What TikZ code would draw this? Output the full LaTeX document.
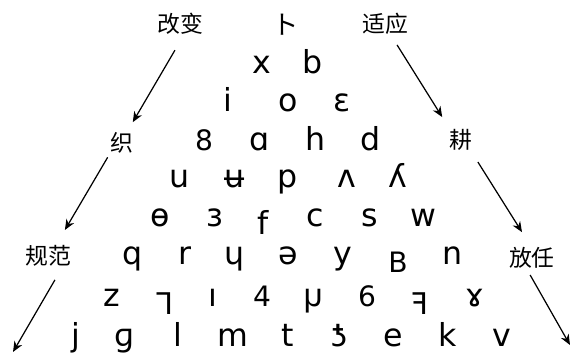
\documentclass[tikz,border=0pt]{standalone}
\usepackage{fontspec}
\usepackage{graphicx}
\setmainfont{DejaVu Sans}
\newfontfamily\cjk{Noto Sans CJK SC}
\usetikzlibrary{arrows.meta}

\begin{document}
\begin{tikzpicture}[
        sym/.style={anchor=base, inner sep=0pt, font=\fontsize{18}{20}\selectfont},
        smallsym/.style={anchor=base, inner sep=0pt, font=\fontsize{16}{18}\selectfont},
        lbl/.style={inner sep=2pt, font=\cjk\fontsize{13}{15}\selectfont},
        arr/.style={-{Stealth[length=6pt,width=5pt]}, line width=0.7pt}]
        \useasboundingbox (0, 0) rectangle (11.42, 7.08);

        \node[lbl](gaibian) at (3.60, 6.60) {改变};
        \node[lbl, font=\cjk\fontsize{15}{17}\selectfont](to) at (5.72, 6.58) {ト};
        \node[lbl](shiying) at (7.70, 6.60) {适应};

        \node[sym](x) at (5.24, 5.60) {x};
        \node[sym](b) at (6.26, 5.60) {b};

        \node[sym](i) at (4.56, 4.84) {i};
        \node[sym](o) at (5.76, 4.84) {o};
        \node[sym](epsilon) at (6.84, 4.84) {ɛ};

        \node[smallsym](eight) at (4.08, 4.06) {8};
        \node[sym](alpha) at (5.20, 4.06) {ɑ};
        \node[sym](h) at (6.32, 4.06) {h};
        \node[sym](d) at (7.42, 4.06) {d};

        \node[sym](u) at (3.60, 3.32) {u};
        \node[sym](ubar) at (4.70, 3.32) {ʉ};
        \node[sym](p) at (5.76, 3.32) {p};
        \node[sym](wedge) at (6.94, 3.32) {ʌ};
        \node[sym](turny) at (7.96, 3.32) {ʎ};

        \node[sym](obar) at (3.20, 2.54) {ɵ};
        \node[sym](revepsilon) at (4.30, 2.54) {ɜ};
        \node[sym](flow) at (5.26, 2.38) {f};
        \node[sym](c) at (6.30, 2.54) {c};
        \node[sym](s) at (7.40, 2.54) {s};
        \node[sym](w) at (8.46, 2.54) {w};

        \node[sym](q) at (2.66, 1.78) {q};
        \node[sym](r) at (3.70, 1.78) {r};
        \node[sym](turnh) at (4.70, 1.78) {ɥ};
        \node[sym](schwa) at (5.76, 1.78) {ə};
        \node[sym](y) at (6.86, 1.78) {y};
        \node[sym, font=\fontsize{16}{18}\selectfont](bigB) at (7.96, 1.62) {B};
        \node[sym](n) at (9.06, 1.78) {n};

        \node[sym](z) at (2.24, 0.94) {z};
        \node[sym, font=\fontsize{17}{19}\selectfont](mirrorgamma) at (3.30, 0.78) {\reflectbox{Γ}};
        \node[sym](dotlessi) at (4.26, 0.94) {ı};
        \node[smallsym](four) at (5.24, 0.94) {4};
        \node[sym](mirrorh) at (6.26, 0.94) {\reflectbox{ɥ}};
        \node[smallsym](six) at (7.34, 0.94) {6};
        \node[sym, font=\fontsize{17}{19}\selectfont](mirrorF) at (8.40, 0.78) {\reflectbox{F}};
        \node[sym](ramshorn) at (9.50, 0.94) {ɤ};

        \node[sym](j) at (1.52, 0.14) {j};
        \node[sym](g) at (2.50, 0.14) {ɡ};
        \node[sym](l) at (3.56, 0.14) {l};
        \node[sym](m) at (4.66, 0.14) {m};
        \node[sym](t) at (5.76, 0.14) {t};
        \node[sym](invstop) at (6.80, 0.14) {ƾ};
        \node[sym](e) at (7.86, 0.14) {e};
        \node[sym](k) at (8.96, 0.14) {k};
        \node[sym](v) at (10.04, 0.14) {v};

        \node[lbl](zhi) at (2.44, 4.22) {织};
        \node[lbl](guifan) at (0.96, 1.96) {规范};
        \coordinate(endleft) at (0.26, 0.04);
        \draw[arr, shorten <=0.27cm, shorten >=0.15cm] (gaibian.-83) -- (zhi.64);
        \draw[arr, shorten >=0.27cm] (zhi.-135) -- (guifan.55);
        \draw[arr, shorten <=0.22cm] (guifan.-49) -- (endleft);

        \node[lbl](geng) at (9.22, 4.28) {耕};
        \node[lbl](fangren) at (10.64, 1.92) {放任};
        \coordinate(endright) at (11.40, 0.18);
        \draw[arr, shorten <=0.15cm, shorten >=0.20cm] (shiying.-61) -- (geng.133);
        \draw[arr, shorten <=0.18cm, shorten >=0.27cm] (geng.-50) -- (fangren.101);
        \draw[arr, shorten <=0.06cm] (fangren.-103) -- (endright);
    \end{tikzpicture}
\end{document}
